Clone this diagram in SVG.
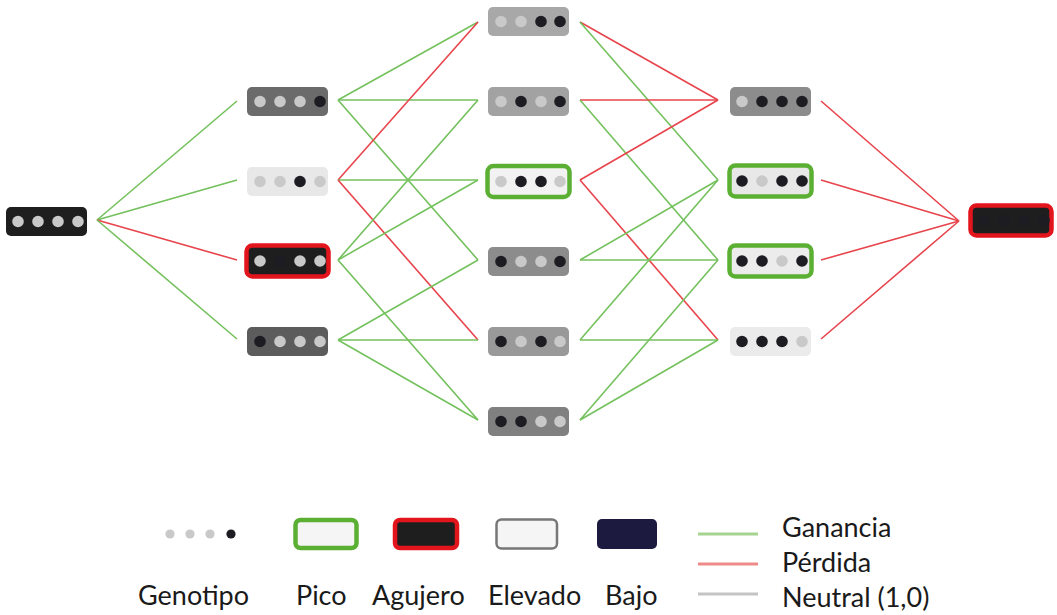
<svg xmlns="http://www.w3.org/2000/svg" width="1057" height="615" viewBox="0 0 1057 615">
<style>
.gain{stroke:#74c15d;stroke-width:1.6;fill:none}
.loss{stroke:#e8444c;stroke-width:1.6;fill:none}
.box{stroke:none}
.peak{stroke:#5bb033;stroke-width:4.5}
.hole{stroke:#e2141c;stroke-width:4.5}
.l{fill:#c9c9c9}
.d{fill:#1c1c22}
.lbl{font-family:Lato,"Liberation Sans",sans-serif;font-size:27px;fill:#1a1a1a}
</style>
<rect width="1057" height="615" fill="#ffffff"/>
<g id="connectors">
<line class="gain" x1="97" y1="220" x2="237" y2="101"/>
<line class="gain" x1="97" y1="220" x2="237" y2="180"/>
<line class="loss" x1="97" y1="220" x2="237" y2="260"/>
<line class="gain" x1="97" y1="220" x2="237" y2="339"/>
<line class="gain" x1="338" y1="100" x2="478" y2="22"/>
<line class="gain" x1="338" y1="100" x2="478" y2="100"/>
<line class="gain" x1="338" y1="100" x2="478" y2="260"/>
<line class="loss" x1="338" y1="180" x2="478" y2="22"/>
<line class="gain" x1="338" y1="180" x2="478" y2="180"/>
<line class="loss" x1="338" y1="180" x2="478" y2="340"/>
<line class="gain" x1="338" y1="260" x2="478" y2="100"/>
<line class="gain" x1="338" y1="260" x2="478" y2="180"/>
<line class="gain" x1="338" y1="260" x2="478" y2="420"/>
<line class="gain" x1="338" y1="340" x2="478" y2="260"/>
<line class="gain" x1="338" y1="340" x2="478" y2="340"/>
<line class="gain" x1="338" y1="340" x2="478" y2="420"/>
<line class="loss" x1="580" y1="22" x2="718" y2="100"/>
<line class="gain" x1="580" y1="22" x2="718" y2="180"/>
<line class="loss" x1="580" y1="100" x2="718" y2="100"/>
<line class="gain" x1="580" y1="100" x2="718" y2="260"/>
<line class="loss" x1="580" y1="180" x2="718" y2="100"/>
<line class="loss" x1="580" y1="180" x2="718" y2="340"/>
<line class="gain" x1="580" y1="260" x2="718" y2="180"/>
<line class="gain" x1="580" y1="260" x2="718" y2="260"/>
<line class="gain" x1="580" y1="340" x2="718" y2="180"/>
<line class="gain" x1="580" y1="340" x2="718" y2="340"/>
<line class="gain" x1="580" y1="420" x2="718" y2="260"/>
<line class="gain" x1="580" y1="420" x2="718" y2="340"/>
<line class="loss" x1="821" y1="101" x2="959" y2="221"/>
<line class="loss" x1="821" y1="180" x2="959" y2="221"/>
<line class="loss" x1="821" y1="260" x2="959" y2="221"/>
<line class="loss" x1="821" y1="339" x2="959" y2="221"/>
</g>
<g id="n0000">
<rect class="box" x="6" y="207" width="81" height="29" rx="5" fill="#1e1e1e"/>
<circle class="l" cx="18" cy="221.5" r="5.8"/><circle class="l" cx="38" cy="221.5" r="5.8"/><circle class="l" cx="58" cy="221.5" r="5.8"/><circle class="l" cx="78" cy="221.5" r="5.8"/>
</g>
<g id="n0001">
<rect class="box" x="247" y="87" width="81" height="29" rx="5" fill="#6b6b6b"/>
<circle class="l" cx="260" cy="101.5" r="5.8"/><circle class="l" cx="280" cy="101.5" r="5.8"/><circle class="l" cx="300" cy="101.5" r="5.8"/><circle class="d" cx="320" cy="101.5" r="5.8"/>
</g>
<g id="n0010">
<rect class="box" x="247" y="167" width="81" height="29" rx="5" fill="#e8e8e8"/>
<circle class="l" cx="260" cy="181.5" r="5.8"/><circle class="l" cx="280" cy="181.5" r="5.8"/><circle class="d" cx="300" cy="181.5" r="5.8"/><circle class="l" cx="320" cy="181.5" r="5.8"/>
</g>
<g id="n0100">
<rect class="hole" x="246.5" y="245.5" width="82" height="31" rx="6" fill="#1e1e1e"/>
<circle class="l" cx="260" cy="261" r="5.8"/><circle class="d" cx="280" cy="261" r="5.8"/><circle class="l" cx="300" cy="261" r="5.8"/><circle class="l" cx="320" cy="261" r="5.8"/>
</g>
<g id="n1000">
<rect class="box" x="247" y="327" width="81" height="29" rx="5" fill="#5c5c5c"/>
<circle class="d" cx="260" cy="341.5" r="5.8"/><circle class="l" cx="280" cy="341.5" r="5.8"/><circle class="l" cx="300" cy="341.5" r="5.8"/><circle class="l" cx="320" cy="341.5" r="5.8"/>
</g>
<g id="n0011">
<rect class="box" x="488" y="7" width="81" height="29" rx="5" fill="#a8a8a8"/>
<circle class="l" cx="501" cy="21.5" r="5.8"/><circle class="l" cx="521" cy="21.5" r="5.8"/><circle class="d" cx="541" cy="21.5" r="5.8"/><circle class="d" cx="560" cy="21.5" r="5.8"/>
</g>
<g id="n0101">
<rect class="box" x="488" y="87" width="81" height="29" rx="5" fill="#a2a2a2"/>
<circle class="l" cx="501" cy="101.5" r="5.8"/><circle class="d" cx="521" cy="101.5" r="5.8"/><circle class="l" cx="541" cy="101.5" r="5.8"/><circle class="d" cx="560" cy="101.5" r="5.8"/>
</g>
<g id="n0110">
<rect class="peak" x="487.5" y="166" width="82" height="31" rx="6" fill="#f2f2f2"/>
<circle class="l" cx="501" cy="181.5" r="5.8"/><circle class="d" cx="521" cy="181.5" r="5.8"/><circle class="d" cx="541" cy="181.5" r="5.8"/><circle class="l" cx="560" cy="181.5" r="5.8"/>
</g>
<g id="n1001">
<rect class="box" x="488" y="247" width="81" height="29" rx="5" fill="#8c8c8c"/>
<circle class="d" cx="501" cy="261.5" r="5.8"/><circle class="l" cx="521" cy="261.5" r="5.8"/><circle class="l" cx="541" cy="261.5" r="5.8"/><circle class="d" cx="560" cy="261.5" r="5.8"/>
</g>
<g id="n1010">
<rect class="box" x="488" y="327" width="81" height="29" rx="5" fill="#999999"/>
<circle class="d" cx="501" cy="341.5" r="5.8"/><circle class="l" cx="521" cy="341.5" r="5.8"/><circle class="d" cx="541" cy="341.5" r="5.8"/><circle class="l" cx="560" cy="341.5" r="5.8"/>
</g>
<g id="n1100">
<rect class="box" x="488" y="407" width="81" height="29" rx="5" fill="#808080"/>
<circle class="d" cx="501" cy="421.5" r="5.8"/><circle class="d" cx="521" cy="421.5" r="5.8"/><circle class="l" cx="541" cy="421.5" r="5.8"/><circle class="l" cx="560" cy="421.5" r="5.8"/>
</g>
<g id="n0111">
<rect class="box" x="730" y="87" width="81" height="29" rx="5" fill="#8c8c8c"/>
<circle class="l" cx="742" cy="101.5" r="5.8"/><circle class="d" cx="762" cy="101.5" r="5.8"/><circle class="d" cx="782" cy="101.5" r="5.8"/><circle class="d" cx="802" cy="101.5" r="5.8"/>
</g>
<g id="n1011">
<rect class="peak" x="729.5" y="165.5" width="82" height="31" rx="6" fill="#e8e8e8"/>
<circle class="d" cx="742" cy="181" r="5.8"/><circle class="l" cx="762" cy="181" r="5.8"/><circle class="d" cx="782" cy="181" r="5.8"/><circle class="d" cx="802" cy="181" r="5.8"/>
</g>
<g id="n1101">
<rect class="peak" x="729.5" y="245.5" width="82" height="31" rx="6" fill="#ececec"/>
<circle class="d" cx="742" cy="261" r="5.8"/><circle class="d" cx="762" cy="261" r="5.8"/><circle class="l" cx="782" cy="261" r="5.8"/><circle class="d" cx="802" cy="261" r="5.8"/>
</g>
<g id="n1110">
<rect class="box" x="730" y="327" width="81" height="29" rx="5" fill="#ebebeb"/>
<circle class="d" cx="742" cy="341.5" r="5.8"/><circle class="d" cx="762" cy="341.5" r="5.8"/><circle class="d" cx="782" cy="341.5" r="5.8"/><circle class="l" cx="802" cy="341.5" r="5.8"/>
</g>
<g id="n1111">
<rect class="hole" x="970.5" y="205.5" width="81" height="30" rx="6" fill="#1e1e1e"/>
<circle class="d" cx="984" cy="220.5" r="5.8"/><circle class="d" cx="1004" cy="220.5" r="5.8"/><circle class="d" cx="1024" cy="220.5" r="5.8"/><circle class="d" cx="1044" cy="220.5" r="5.8"/>
</g>
<g id="legend">
<circle class="l" cx="170" cy="534" r="4.6"/><circle class="l" cx="190" cy="534" r="4.6"/><circle class="l" cx="210" cy="534" r="4.6"/><circle class="d" cx="231" cy="534" r="4.6"/>
<rect class="peak" x="295.5" y="520" width="61" height="28" rx="5" fill="#f5f5f5"/>
<rect class="hole" x="395" y="520" width="62" height="28" rx="5" fill="#1e1e1e"/>
<rect x="496.5" y="519.5" width="60.5" height="29" rx="5" fill="#f5f5f5" stroke="#777777" stroke-width="2.5"/>
<rect x="597" y="519" width="60" height="30" rx="5" fill="#1d1a40"/>
<line x1="698" y1="534" x2="758" y2="534" stroke="#a5d48f" stroke-width="3"/>
<line x1="698" y1="564" x2="758" y2="564" stroke="#f08a8a" stroke-width="3"/>
<line x1="698" y1="594" x2="758" y2="594" stroke="#c4c4c4" stroke-width="3"/>
<text class="lbl" x="138" y="605">Genotipo</text>
<text class="lbl" x="296" y="605">Pico</text>
<text class="lbl" x="372" y="605">Agujero</text>
<text class="lbl" x="488" y="605">Elevado</text>
<text class="lbl" x="605" y="605">Bajo</text>
<text class="lbl" x="782" y="537">Ganancia</text>
<text class="lbl" x="782" y="572">Pérdida</text>
<text class="lbl" x="782" y="607">Neutral (1,0)</text>
</g>
</svg>
